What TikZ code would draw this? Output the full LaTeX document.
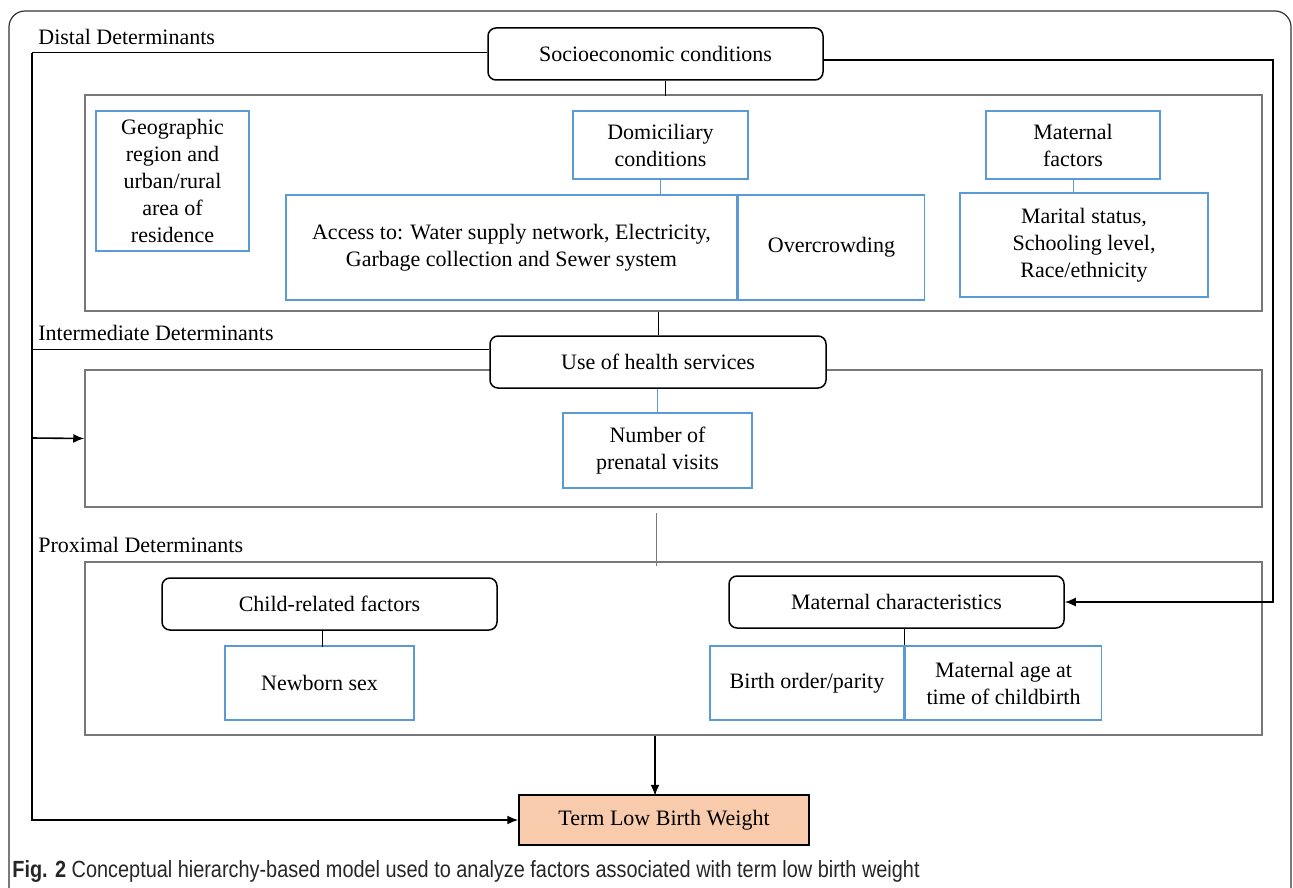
\documentclass[tikz,border=0pt]{standalone}
\usepackage{fontspec}
\setmainfont{Liberation Serif}
\newfontfamily\capfont[FakeStretch=0.85]{Liberation Sans}
\usetikzlibrary{positioning,arrows.meta}
\definecolor{boxblue}{RGB}{91,155,213}
\definecolor{tiergray}{RGB}{120,120,120}
\definecolor{peach}{RGB}{248,203,173}

\begin{document}
\begin{tikzpicture}[x=0.5pt, y=-0.5pt,
    font=\fontsize{11}{13.5}\selectfont,
    head/.style = {shape=rectangle, rounded corners=4pt, draw=black,
      line width=0.75pt, fill=white, align=center, inner sep=0pt},
    leaf/.style = {shape=rectangle, draw=boxblue, line width=0.75pt,
      fill=white, align=center, inner sep=0pt},
    tier/.style = {shape=rectangle, draw=tiergray, line width=0.75pt,
      inner sep=0pt},
    tag/.style = {anchor=west, inner sep=0pt},
    link/.style = {line width=0.5pt},
    feed/.style = {line width=0.8pt, -{Latex[length=5.5pt,width=4.5pt]}}]
  \useasboundingbox (0,0) rectangle (1293,887);
  \draw[line width=0.6pt, black!80, rounded corners=8pt] (9,11) rectangle (1291,930);

  % the three levels
  \node[tier, minimum width=588.5pt, minimum height=108pt] (distal) at (673.5,203) {};
  \node[tier, minimum width=588.5pt, minimum height=68.5pt] (inter) at (673.5,438.5) {};
  \node[tier, minimum width=588.5pt, minimum height=86.5pt] (prox) at (673.5,648.5) {};

  \node[tag] (distaltag) at (38,37) {Distal Determinants};
  \node[tag] (intertag) at (38,333) {Intermediate Determinants};
  \node[tag] (proxtag) at (38,545) {Proximal Determinants};

  % distal
  \node[head, minimum width=167.5pt, minimum height=26pt] (socio) at (655.5,54) {Socioeconomic conditions};
  \node[leaf, minimum width=76.5pt, minimum height=70pt] (geo) at (172.5,181)
    {Geographic\\region and\\urban/rural\\area of\\residence};
  \node[leaf, minimum width=87.5pt, minimum height=34pt] (domicile) at (660.5,145) {Domiciliary\\conditions};
  \node[leaf, minimum width=225.5pt, minimum height=52.5pt] (access) at (511.5,247.5)
    {Access to: Water supply network, Electricity,\\Garbage collection and Sewer system};
  \node[leaf, minimum width=93pt, minimum height=52.5pt, right=0pt of access] (crowd) {Overcrowding};
  \node[leaf, minimum width=87pt, minimum height=34pt] (matfac) at (1073,145) {Maternal\\factors};
  \node[leaf, minimum width=124pt, minimum height=52pt] (marital) at (1084,245)
    {Marital status,\\Schooling level,\\Race/ethnicity};

  % intermediate
  \node[head, minimum width=168pt, minimum height=26pt] (health) at (658,362) {Use of health services};
  \node[leaf, minimum width=94.5pt, minimum height=37.5pt] (prenatal) at (657.5,450.5) {Number of\\prenatal visits};

  % proximal
  \node[head, minimum width=167.5pt, minimum height=26pt] (child) at (329.5,604) {Child-related factors};
  \node[leaf, minimum width=94.5pt, minimum height=37pt] (newborn) at (319.5,683) {Newborn sex};
  \node[head, minimum width=167.5pt, minimum height=26pt] (matchar) at (896.5,602) {Maternal characteristics};
  \node[leaf, minimum width=97pt, minimum height=37pt] (parity) at (807,683) {Birth order/parity};
  \node[leaf, minimum width=98pt, minimum height=37pt, right=0pt of parity] (matage) {Maternal age at\\time of childbirth};

  \node[shape=rectangle, draw=black, line width=0.75pt, fill=peach,
    minimum width=145pt, minimum height=25pt] (tlbw) at (664,820) {Term Low Birth Weight};

  % links inside the levels
  \draw[link] (socio.south -| domicile) ++(4.5,0) -- ++(0,15);
  \draw[link, boxblue] (domicile.south) -- (domicile.south |- access.north);
  \draw[link, boxblue] (matfac.south) -- (matfac.south |- marital.north);
  \draw[link] (health.north |- distal.south) -- (health.north);
  \draw[link, boxblue] (health.south -| prenatal) -- (prenatal.north);
  \draw[link, tiergray] (inter.south -| prenatal) ++(-1.5,5) -- ++(0,53);
  \draw[link] (child.south -| newborn) ++(2.5,0) -- ++(0,16);
  \draw[link] (matchar.south -| matage.west) -- (matage.west |- matage.north);

  % frame lines and arrows
  \coordinate (lefttop) at (32,53);
  \coordinate (leftmid) at (32,438);
  \coordinate (intleft) at (32,349);
  \coordinate (righttop) at (1273,60);
  \draw[link] (lefttop) -- (lefttop -| socio.west);
  \draw[link] (intleft) -- (intleft -| health.west);
  \draw[feed] (lefttop) |- (tlbw.west);
  \draw[feed] (leftmid) -- (inter.west);
  \draw[feed] (righttop -| socio.east) -- (righttop) |- (matchar.east);
  \draw[feed] (prox.south -| prenatal) ++(-2.5,0) -- ++(0,60);

  \node[anchor=west, inner sep=0pt, font=\capfont\fontsize{11.7}{13}\selectfont, text=black!85]
    (caption) at (12,871) {\textbf{Fig. 2} Conceptual hierarchy-based model used to analyze factors associated with term low birth weight};
\end{tikzpicture}
\end{document}
